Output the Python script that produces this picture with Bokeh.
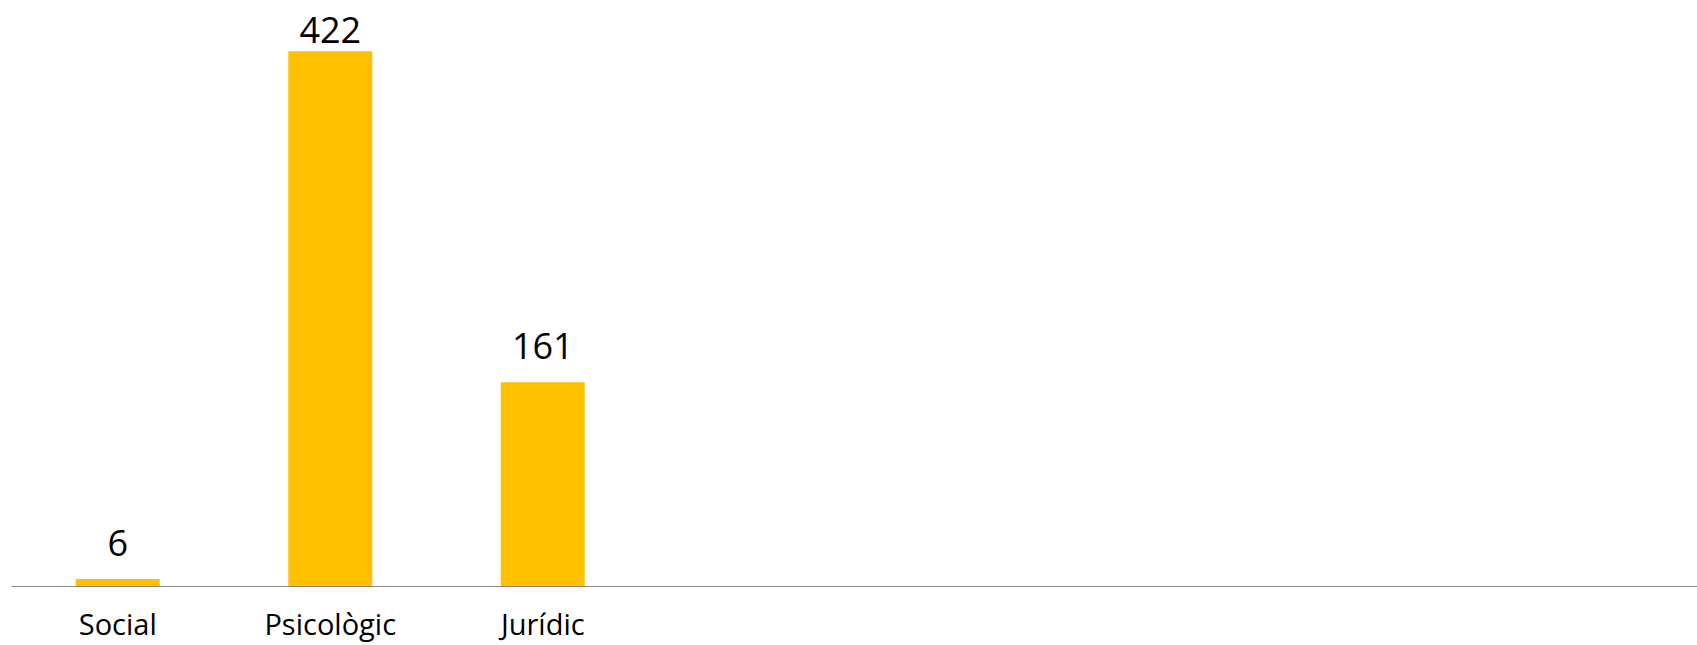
from bokeh.plotting import figure
from bokeh.models import ColumnDataSource, Range1d, FixedTicker
from bokeh.core.properties import value
from bokeh.embed import file_html
from bokeh.resources import INLINE

categories = ["Social", "Psicològic", "Jurídic"]
counts = [6, 422, 161]
n_slots = 7.934  # the chart leaves room for empty category slots

W, H = 1697, 645
frame_h = 586
y_max = 462
px_per_unit = frame_h / y_max

xs = [i + 0.5 for i in range(len(categories))]
label_offsets = [-min(36, (y_max - v) * px_per_unit - 29) for v in counts]

src = ColumnDataSource(dict(x=xs, top=counts, label=[str(v) for v in counts],
                            off=label_offsets))

p = figure(width=W, height=H, output_backend="svg", toolbar_location=None,
           x_range=Range1d(0, n_slots), y_range=Range1d(0, y_max),
           min_border_left=11, min_border_right=0, min_border_top=0,
           min_border_bottom=H - frame_h)
p.outline_line_color = None
p.grid.visible = False
p.yaxis.visible = False

p.vbar(x="x", top="top", width=0.395, bottom=0, source=src,
       fill_color="#FFC000", line_color=None)
p.text(x="x", y="top", text="label", y_offset="off", source=src,
       text_align="center", text_baseline="alphabetic",
       text_font=value("Open Sans"), text_font_size="36px", text_color="#000000")

ax = p.xaxis[0]
ax.ticker = FixedTicker(ticks=xs)
ax.major_label_overrides = {x: c for x, c in zip(xs, categories)}
ax.major_tick_line_color = None
ax.major_tick_out = 0
ax.major_tick_in = 0
ax.minor_tick_line_color = None
ax.minor_tick_out = 0
ax.axis_line_color = "#898989"
ax.axis_line_width = 1.2
ax.major_label_text_font = "Open Sans"
ax.major_label_text_font_size = "29px"
ax.major_label_text_color = "#000000"
ax.major_label_standoff = 17

open("out.html", "w").write(file_html(p, INLINE))
